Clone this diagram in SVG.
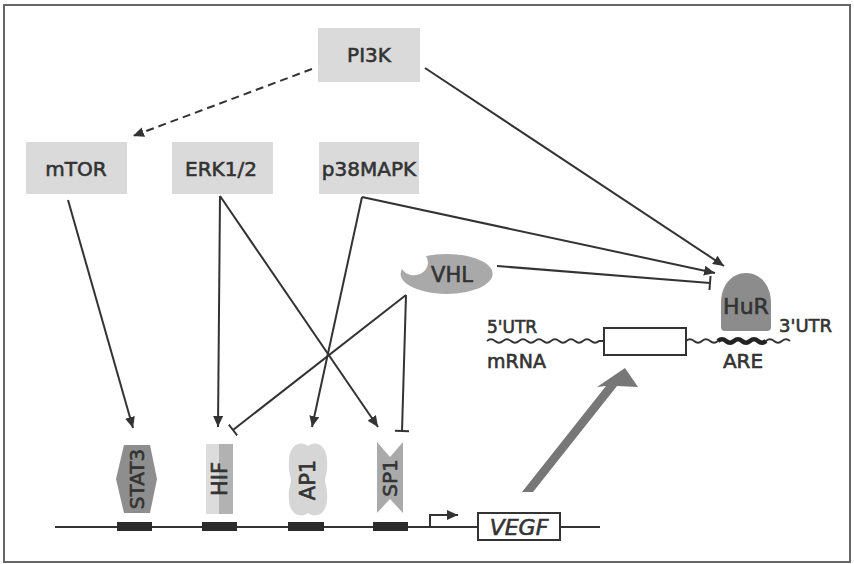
<svg xmlns="http://www.w3.org/2000/svg" width="854" height="564" viewBox="0 0 854 564">
  <style>
    .lbl { font-family: "DejaVu Sans", Verdana, sans-serif; fill: #333; stroke: #333; stroke-width: 0.6; }
    .box { fill: #dadada; }
    .edge { stroke: #333; stroke-width: 2; fill: none; }
    .dna { stroke: #333; stroke-width: 2; fill: none; }
    .site { fill: #2b2b2b; }
    .wave { stroke: #333; stroke-width: 1.8; fill: none; }
  </style>
  <defs>
    <marker id="arrow" markerUnits="userSpaceOnUse" markerWidth="12" markerHeight="10" refX="11" refY="5" orient="auto">
      <path d="M0,0 L11,5 L0,10 Z" fill="#333"/>
    </marker>
    <marker id="tbar" markerUnits="userSpaceOnUse" markerWidth="4" markerHeight="14" refX="2" refY="7" orient="auto">
      <path d="M2,0 V14" stroke="#333" stroke-width="2"/>
    </marker>
  </defs>

  <rect width="854" height="564" fill="#fff"/>
  <!-- frame -->
  <rect x="4" y="5" width="846" height="557" fill="none" stroke="#666" stroke-width="2"/>

  <!-- kinase boxes -->
  <g id="pi3k">
    <rect class="box" x="318" y="28" width="102" height="54"/>
    <text class="lbl" x="369" y="62" font-size="20" text-anchor="middle">PI3K</text>
  </g>
  <g id="mtor">
    <rect class="box" x="26" y="142" width="101" height="52"/>
    <text class="lbl" x="76" y="176" font-size="20" text-anchor="middle">mTOR</text>
  </g>
  <g id="erk">
    <rect class="box" x="172" y="142" width="101" height="52"/>
    <text class="lbl" x="221" y="176" font-size="20" text-anchor="middle">ERK1/2</text>
  </g>
  <g id="p38mapk">
    <rect class="box" x="319" y="142" width="100" height="52"/>
    <text class="lbl" x="369" y="176" font-size="20" text-anchor="middle">p38MAPK</text>
  </g>

  <!-- VHL -->
  <g id="vhl">
    <path d="M402,269 A13,12 0 0 0 426,256 A46,20 0 1 1 402,269 Z" fill="#a9a9a9"/>
    <text class="lbl" x="452" y="282" font-size="21" text-anchor="middle">VHL</text>
  </g>

  <!-- HuR -->
  <g id="hur">
    <path d="M721,327 V303 C721,285 732,273 746,273 C760,273 771,285 771,303 V327 Q771,331 767,331 H725 Q721,331 721,327 Z" fill="#8c8c8c"/>
    <text class="lbl" x="746" y="314" font-size="22" text-anchor="middle">HuR</text>
  </g>

  <!-- mRNA -->
  <g id="mrna">
    <path class="wave" d="M487,341 q4,-3.5 8,0 t8,0 t8,0 t8,0 t8,0 t8,0 t8,0 t8,0 t8,0 t8,0 t8,0 t8,0 t8,0 t8,0 L604,341"/>
    <path class="wave" d="M686,341 q4,-3.5 8,0 t8,0 t8,0 t8,0 t8,0 t8,0 t8,0 t8,0 t8,0 t8,0 t8,0 t8,0 t8,0"/>
    <path d="M718,341 q4,-3.5 8,0 t8,0 t8,0 t8,0 t8,0 t8,0" stroke="#222" stroke-width="4.5" fill="none"/>
    <rect x="604" y="328" width="82" height="27" fill="#fff" stroke="#333" stroke-width="2"/>
    <text class="lbl" x="487" y="333" font-size="17">5'UTR</text>
    <text class="lbl" x="487" y="368" font-size="19">mRNA</text>
    <text class="lbl" x="743" y="368" font-size="20" text-anchor="middle">ARE</text>
    <text class="lbl" x="779" y="332" font-size="18">3'UTR</text>
  </g>

  <!-- promoter DNA -->
  <g id="dna">
    <path class="dna" d="M55,527 H478 M560,527 H600"/>
    <rect class="site" x="117" y="522" width="35" height="9"/>
    <rect class="site" x="202" y="522" width="35" height="9"/>
    <rect class="site" x="288" y="522" width="36" height="9"/>
    <rect class="site" x="373" y="522" width="35" height="9"/>
    <path class="dna" d="M430,527 V515 H458" marker-end="url(#arrow)"/>
  </g>
  <g id="vegf">
    <rect x="478" y="513" width="82" height="27" fill="#fff" stroke="#333" stroke-width="2"/>
    <text class="lbl" x="519" y="535" font-size="22" font-style="italic" text-anchor="middle">VEGF</text>
  </g>

  <!-- transcription factors -->
  <g id="stat3">
    <polygon points="124,445 150,445 157,479 150,513 124,513 116,479" fill="#8e8e8e"/>
    <text class="lbl" transform="translate(144,479) rotate(-90)" font-size="20" text-anchor="middle">STAT3</text>
  </g>
  <g id="hif">
    <rect x="206" y="444" width="14" height="70" fill="#dcdcdc"/>
    <rect x="219" y="444" width="14" height="70" fill="#b2b2b2"/>
    <text class="lbl" transform="translate(227,479) rotate(-90)" font-size="21" text-anchor="middle">HIF</text>
  </g>
  <g id="ap1">
    <path d="M308,446 C314,441 326,443 327,460 C328,472 325,476 325,480 C325,484 328,490 327,500 C326,516 314,518 308,513 C302,518 290,516 289,500 C288,490 291,484 291,480 C291,476 288,472 289,460 C290,443 302,441 308,446 Z" fill="#d6d6d6"/>
    <text class="lbl" transform="translate(315,480) rotate(-90)" font-size="21" text-anchor="middle">AP1</text>
  </g>
  <g id="sp1">
    <polygon points="377,442 390,457 403,442 403,513 390,499 377,513" fill="#aaaaaa"/>
    <text class="lbl" transform="translate(397,478) rotate(-90)" font-size="20" text-anchor="middle">SP1</text>
  </g>

  <!-- translation arrow -->
  <polygon id="translation" points="522,492 533,492 617,386 638,387 625,368 597,387 606,386" fill="#777"/>

  <!-- regulatory connectors -->
  <g id="connectors">
    <path class="edge" d="M312,69 L133,136" stroke-dasharray="8,5" stroke-width="2.5" marker-end="url(#arrow)"/>
    <path class="edge" d="M425,68 L724,266" marker-end="url(#arrow)"/>
    <path class="edge" d="M68,200 L133,428" marker-end="url(#arrow)"/>
    <path class="edge" d="M220,196 L218,427" marker-end="url(#arrow)"/>
    <path class="edge" d="M220,196 L378,427" marker-end="url(#arrow)"/>
    <path class="edge" d="M362,197 L312,427" marker-end="url(#arrow)"/>
    <path class="edge" d="M362,197 L715,273" marker-end="url(#arrow)"/>
    <path class="edge" d="M497,266 L710,283" marker-end="url(#tbar)"/>
    <path class="edge" d="M406,295 L233,430" marker-end="url(#tbar)"/>
    <path class="edge" d="M406,295 L402,431" marker-end="url(#tbar)"/>
  </g>
</svg>
